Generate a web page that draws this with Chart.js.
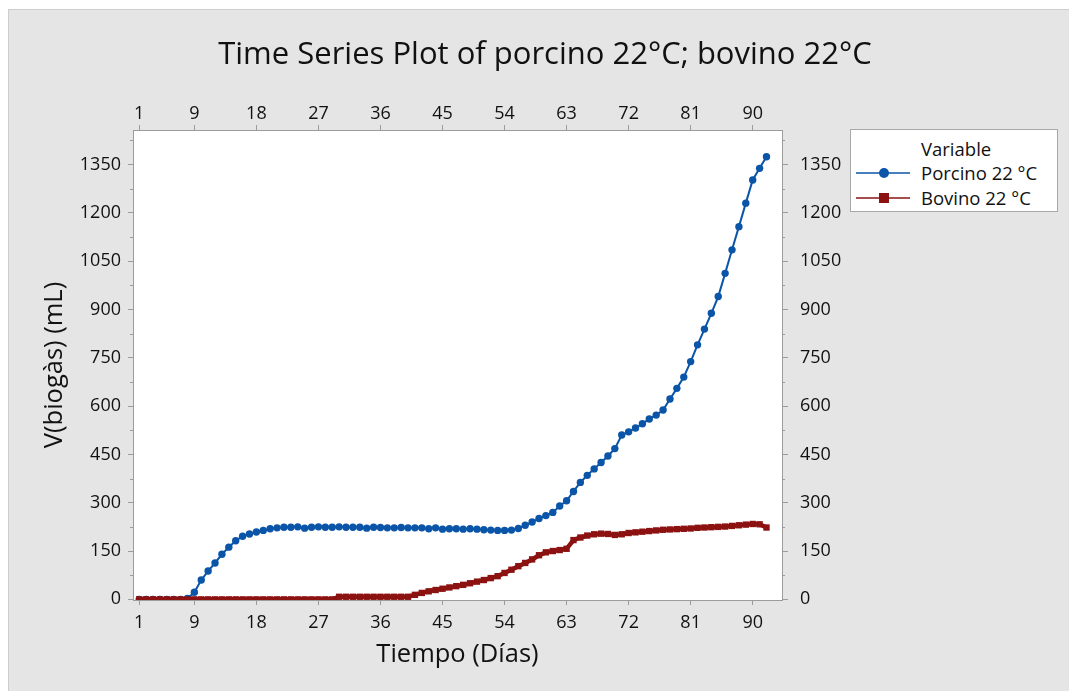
<!DOCTYPE html>
<html>
<head>
<meta charset="utf-8">
<script src="https://cdn.jsdelivr.net/npm/chart.js@4"></script>
<style>
  html, body { margin: 0; padding: 0; background: #fff; }
  #wrap { position: relative; width: 1069px; height: 691px; }
  #legend {
    position: absolute; left: 850px; top: 129px; width: 206px; height: 81px;
    background: #fff; border: 1px solid #a8a8a8;
    font-family: 'Open Sans', sans-serif; font-size: 18.5px; color: #111;
  }
  #legend .ltitle { position: absolute; left: 70px; top: 7.5px; line-height: 22px; }
  #legend .row { position: absolute; left: 5px; height: 22px; line-height: 22px; white-space: nowrap; }
  #legend svg { position: absolute; left: 0; top: 5px; }
  #legend .row span { position: absolute; left: 65px; top: 0; }
</style>
</head>
<body>
<div id="wrap">
  <canvas id="myChart" width="1069" height="691"></canvas>
  <div id="legend"><div class="ltitle">Variable</div></div>
</div>
<script>
// data
const days = [1,2,3,4,5,6,7,8,9,10,11,12,13,14,15,16,17,18,19,20,
  21,22,23,24,25,26,27,28,29,30,31,32,33,34,35,36,37,38,39,40,
  41,42,43,44,45,46,47,48,49,50,51,52,53,54,55,56,57,58,59,60,
  61,62,63,64,65,66,67,68,69,70,71,72,73,74,75,76,77,78,79,80,
  81,82,83,84,85,86,87,88,89,90,91,92];

const porcino = [0,0,0,0,0,0,0,3,22,60,88,113,140,162,182,196,203,209,214,219,
  222,224,224,225,221,224,225,224,224,225,224,224,224,221,224,223,222,222,223,222,
  222,222,219,222,218,219,219,218,219,218,216,215,214,214,215,220,230,240,251,260,
  270,290,306,335,363,385,405,425,445,468,510,520,532,545,560,572,588,622,655,690,
  738,790,839,888,940,1012,1085,1157,1230,1302,1338,1374];

const bovino = [0,0,0,0,0,0,0,0,0,0,0,0,0,0,0,0,0,0,0,0,
  0,0,0,0,0,0,0,0,0,8,8,8,8,8,8,8,8,8,8,8,
  14,20,25,29,33,37,41,45,50,55,60,66,72,82,92,103,113,124,137,146,
  150,153,157,184,192,198,202,204,203,200,202,206,208,210,212,214,216,217,218,219,
  220,222,223,224,225,226,228,230,232,234,233,223];

const seriesNames = ['Porcino 22 °C', 'Bovino 22 °C'];
const xTicks = [1, 9, 18, 27, 36, 45, 54, 63, 72, 81, 90];
const yTicks = [0, 150, 300, 450, 600, 750, 900, 1050, 1200, 1350];
const yMinor = [75, 225, 375, 525, 675, 825, 975, 1125, 1275, 1425];

const blue = '#0b55a8';
const red = '#8c1212';
const axisGray = '#9c9c9c';
const textCol = '#111';
const fam = "'Open Sans', sans-serif";

function fixTicks(vals) {
  return function (scale) { scale.ticks = vals.map(v => ({ value: v })); };
}

const bgPlugin = {
  id: 'bg',
  beforeDraw(chart) {
    const ctx = chart.ctx, a = chart.chartArea;
    ctx.save();
    ctx.fillStyle = '#fff';
    ctx.fillRect(0, 0, chart.width, chart.height);
    ctx.fillStyle = '#e5e5e5';
    ctx.fillRect(8, 9, chart.width - 8, chart.height - 9);
    ctx.strokeStyle = '#cdcdcd';
    ctx.lineWidth = 1;
    ctx.beginPath();
    ctx.moveTo(8.5, chart.height);
    ctx.lineTo(8.5, 9.5);
    ctx.lineTo(chart.width, 9.5);
    ctx.stroke();
    ctx.fillStyle = '#fff';
    ctx.fillRect(a.left, a.top, a.right - a.left, a.bottom - a.top);
    ctx.restore();
  }
};

const minorTicks = {
  id: 'minorTicks',
  afterDraw(chart) {
    const ctx = chart.ctx;
    ctx.save();
    ctx.strokeStyle = axisGray;
    ctx.lineWidth = 1;
    ['y', 'y2'].forEach(id => {
      const s = chart.scales[id];
      yMinor.forEach(v => {
        const py = Math.round(s.getPixelForValue(v)) + 0.5;
        ctx.beginPath();
        if (s.position === 'left') { ctx.moveTo(s.right - 3, py); ctx.lineTo(s.right, py); }
        else { ctx.moveTo(s.left, py); ctx.lineTo(s.left + 3, py); }
        ctx.stroke();
      });
    });
    ctx.restore();
  }
};

function axisBase(extra) {
  return Object.assign({
    type: 'linear',
    grid: { drawOnChartArea: false, drawTicks: true, tickLength: 5, color: axisGray, tickColor: axisGray },
    border: { display: true, color: axisGray, width: 1 },
  }, extra);
}

const tickFont = { family: fam, size: 18 };

const ctx = document.getElementById('myChart').getContext('2d');
new Chart(ctx, {
  type: 'line',
  data: {
    datasets: [{
      label: seriesNames[0],
      data: days.map((d, i) => ({ x: d, y: porcino[i] })),
      borderColor: blue,
      backgroundColor: blue,
      borderWidth: 2,
      pointStyle: 'circle',
      pointRadius: 3.7,
      pointBorderWidth: 0,
      order: 2,
      xAxisID: 'x', yAxisID: 'y'
    }, {
      label: seriesNames[1],
      data: days.map((d, i) => ({ x: d, y: bovino[i] })),
      borderColor: red,
      backgroundColor: red,
      borderWidth: 4.5,
      pointStyle: 'rect',
      pointRadius: 4.5,
      pointBorderWidth: 0,
      order: 1,
      xAxisID: 'x', yAxisID: 'y'
    }]
  },
  options: {
    responsive: false,
    animation: false,
    layout: { padding: { left: 21, right: 0, top: 0, bottom: 0 } },
    plugins: {
      legend: { display: false },
      tooltip: { enabled: false },
      title: {
        display: true,
        text: 'Time Series Plot of porcino 22°C; bovino 22°C',
        color: textCol,
        font: { family: fam, size: 31, weight: 'normal', lineHeight: 1.2 },
        padding: { top: 36.4, bottom: 26.4 }
      }
    },
    scales: {
      x: axisBase({
        position: 'bottom', min: 0.1, max: 94.25,
        afterBuildTicks: fixTicks(xTicks),
        afterFit: s => { s.height = 91; },
        ticks: { padding: 6.7, color: textCol, font: tickFont, autoSkip: false, maxRotation: 0, callback: v => String(v) },
        title: { display: true, text: 'Tiempo (Días)', color: textCol, font: { family: fam, size: 25.5 }, padding: { top: 0, bottom: 20.7 } }
      }),
      x2: axisBase({
        position: 'top', min: 0.1, max: 94.25,
        afterBuildTicks: fixTicks(xTicks),
        afterFit: s => { s.height = 30; },
        ticks: { padding: 0, color: textCol, font: tickFont, autoSkip: false, maxRotation: 0, callback: v => String(v) }
      }),
      y: axisBase({
        position: 'left', min: -2, max: 1457,
        afterBuildTicks: fixTicks(yTicks),
        afterFit: s => { s.width = 112; },
        ticks: { padding: 7, color: textCol, font: tickFont, autoSkip: false, callback: v => String(v) },
        title: { display: true, text: 'V(biogàs) (mL)', color: textCol, font: { family: fam, size: 25.5 }, padding: { top: 18.7, bottom: 0 } }
      }),
      y2: axisBase({
        position: 'right', min: -2, max: 1457,
        afterBuildTicks: fixTicks(yTicks),
        afterFit: s => { s.width = 287; },
        grid: { drawOnChartArea: false, drawTicks: true, tickLength: 6, color: axisGray, tickColor: axisGray },
        ticks: { padding: 12, color: textCol, font: tickFont, autoSkip: false, callback: v => String(v) }
      })
    }
  },
  plugins: [bgPlugin, minorTicks]
});

// legend box built from the series names
const legend = document.getElementById('legend');
const legendCols = [blue, red];
const rowTops = [31.5, 56.5];
seriesNames.forEach((name, i) => {
  const row = document.createElement('div');
  row.className = 'row';
  row.style.top = rowTops[i] + 'px';
  const mark = i === 0
    ? '<circle cx="28" cy="6" r="5" fill="' + legendCols[i] + '"/>'
    : '<rect x="23" y="1" width="10" height="10" fill="' + legendCols[i] + '"/>';
  row.innerHTML = '<svg width="56" height="12"><line x1="0" y1="6" x2="54" y2="6" stroke="' +
    legendCols[i] + '" stroke-width="1.5"/>' + mark + '</svg><span>' + name + '</span>';
  legend.appendChild(row);
});
</script>
</body>
</html>
